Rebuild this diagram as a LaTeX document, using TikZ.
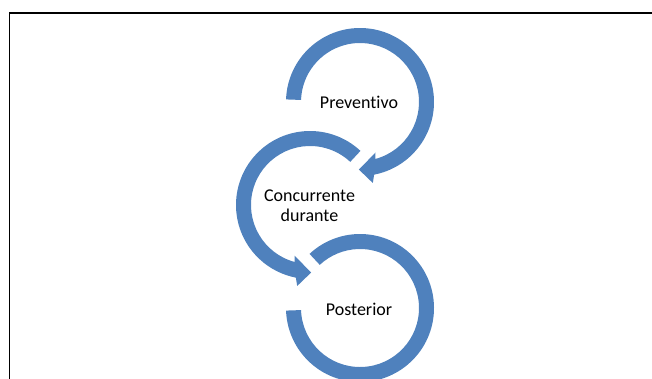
\documentclass[tikz,border=0pt]{standalone}
\usepackage{fontspec}
\setmainfont{Carlito}[Ligatures=NoCommon]
\definecolor{ringblue}{RGB}{79,129,189}
\begin{document}
\begin{tikzpicture}[x=1pt,y=1pt,
    ring/.style={fill=ringblue},
    stagetext/.style={font=\fontsize{18}{20}\selectfont, align=center, anchor=base}]
  \useasboundingbox (0,0) rectangle (652,-378);
  \clip (0,0) rectangle (652,-378);
  \draw[line width=1.8pt] (9.5,-700) -- (9.5,-13.2) -- (700,-13.2);
  \coordinate (c1) at (360,-102);
  \coordinate (c2) at (310,-205);
  \coordinate (c3) at (360,-308);
  % three rings, each with its gap
  \fill[ring, shift={(c1)}] (178:74) arc[start angle=178, end angle=-79, radius=74]
    -- (-81:82) -- (-91:67.5) -- (-73:53) -- (-75:59)
    arc[start angle=-75, end angle=178, radius=59] -- cycle;
  \fill[ring, shift={(c2)}] (47:74) arc[start angle=47, end angle=259, radius=74]
    -- (261:82) -- (271:67.5) -- (253:53) -- (255:59)
    arc[start angle=255, end angle=47, radius=59] -- cycle;
  \fill[ring, shift={(c3)}] (133:74) arc[start angle=133, end angle=-178, radius=74]
    -- (-178:59) arc[start angle=-178, end angle=133, radius=59] -- cycle;
  \node[stagetext] (prev) at (359,-108.3) {Preventivo};
  \node[stagetext] (conc) at (309.5,-221.7) {Concurrente\\durante};
  \node[stagetext] (post) at (359,-315) {Posterior};
\end{tikzpicture}
\end{document}
